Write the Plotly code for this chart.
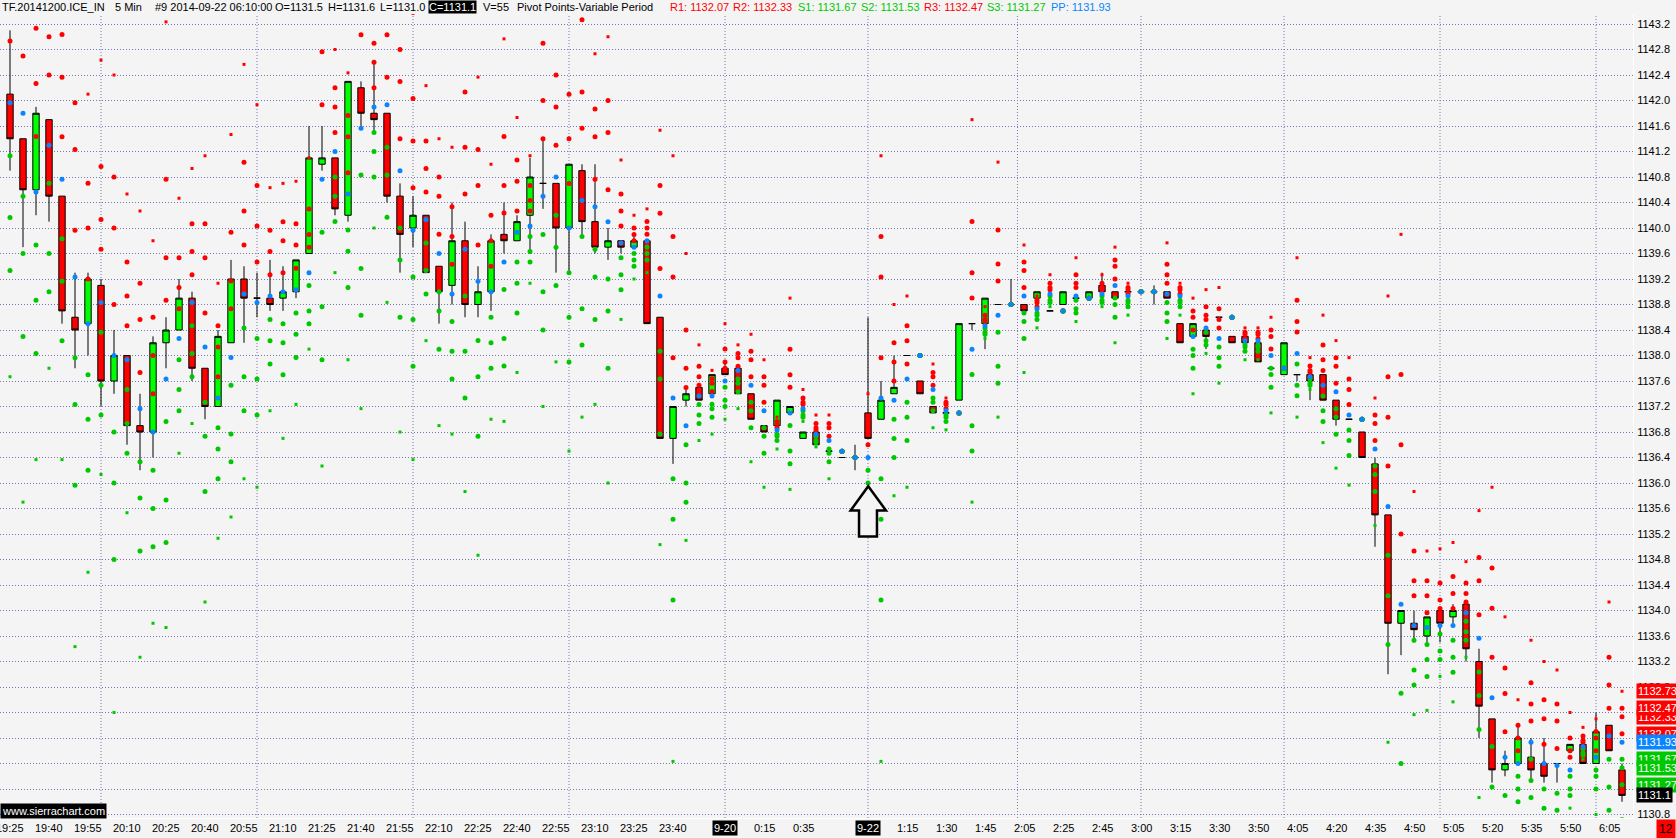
import plotly.graph_objects as go

# ---------------- data ----------------
bars = list(range(125))
opens = [1142.1, 1141.4, 1140.6, 1141.7, 1140.5, 1138.6, 1138.5, 1139.1, 1137.6, 1138.0,
         1136.9, 1136.8, 1138.2, 1138.4, 1138.9, 1137.8, 1137.2, 1138.2, 1139.2, 1138.9,
         1138.9, 1138.9, 1139.0, 1139.6, 1141.0, 1141.1, 1140.2, 1142.2, 1141.8, 1141.8,
         1140.5, 1140.0, 1140.2, 1139.4, 1139.1, 1139.8, 1138.8, 1139.0, 1139.9, 1139.8,
         1140.2, 1140.7, 1140.7, 1140.0, 1140.9, 1140.1, 1139.7, 1139.8, 1139.7, 1139.8,
         1138.6, 1136.7, 1137.3, 1137.5, 1137.4, 1137.8, 1137.8, 1137.4, 1136.9, 1136.9,
         1137.1, 1136.7, 1136.8, 1136.5, 1136.4, 1136.4, 1137.1, 1137.0, 1137.4, 1138.0,
         1137.6, 1137.2, 1137.1, 1137.3, 1138.5, 1138.5, 1138.8, 1138.8, 1138.8, 1138.9,
         1138.7, 1138.8, 1138.9, 1138.9, 1139.1, 1139.0, 1139.0, 1139.0, 1139.0, 1139.0,
         1138.5, 1138.3, 1138.4, 1138.6, 1138.3, 1138.3, 1138.2, 1137.8, 1137.7, 1137.7,
         1137.7, 1137.7, 1137.3, 1137.0, 1136.8, 1136.3, 1135.5, 1133.8, 1133.8, 1133.6,
         1134.0, 1133.9, 1134.1, 1133.2, 1132.3, 1131.5, 1131.6, 1131.7, 1131.6, 1131.6,
         1131.8, 1131.9, 1131.6, 1132.2, 1131.5]
highs = [1143.1, 1141.4, 1141.9, 1141.7, 1140.5, 1139.3, 1139.3, 1139.2, 1138.4, 1138.0,
         1137.4, 1138.3, 1138.6, 1139.2, 1139.0, 1137.8, 1138.4, 1139.5, 1139.4, 1139.3,
         1139.5, 1139.4, 1139.5, 1141.6, 1141.6, 1141.1, 1142.3, 1142.3, 1142.6, 1141.8,
         1140.7, 1140.5, 1140.2, 1139.4, 1140.4, 1140.1, 1139.4, 1139.9, 1140.4, 1140.2,
         1141.1, 1141.4, 1140.7, 1141.0, 1141.0, 1141.0, 1140.0, 1139.8, 1139.9, 1139.8,
         1138.6, 1137.2, 1137.5, 1137.5, 1137.7, 1137.9, 1137.8, 1137.4, 1136.9, 1137.3,
         1137.2, 1136.8, 1136.8, 1136.5, 1136.4, 1136.6, 1138.6, 1137.6, 1138.0, 1138.0,
         1137.6, 1137.2, 1137.1, 1138.5, 1138.5, 1138.9, 1138.8, 1139.2, 1138.8, 1139.0,
         1138.7, 1139.0, 1138.9, 1139.0, 1139.3, 1139.0, 1139.0, 1139.0, 1139.1, 1139.0,
         1138.5, 1138.5, 1138.4, 1138.6, 1138.3, 1138.3, 1138.2, 1137.8, 1138.2, 1137.7,
         1137.7, 1137.7, 1137.3, 1137.0, 1136.8, 1136.4, 1135.5, 1134.0, 1134.0, 1133.9,
         1134.0, 1134.1, 1134.1, 1133.4, 1132.3, 1131.8, 1132.2, 1132.0, 1132.0, 1131.6,
         1131.9, 1131.9, 1132.4, 1132.2, 1131.6]
lows = [1140.9, 1139.7, 1140.2, 1140.1, 1138.5, 1137.8, 1138.0, 1137.2, 1137.4, 1136.6,
        1136.2, 1136.4, 1137.8, 1138.4, 1137.6, 1137.0, 1137.2, 1138.2, 1138.2, 1138.6,
        1138.7, 1138.7, 1138.9, 1139.6, 1140.9, 1140.2, 1140.1, 1141.6, 1141.5, 1140.4,
        1139.3, 1139.7, 1139.3, 1138.5, 1138.8, 1138.6, 1138.6, 1138.7, 1139.6, 1139.8,
        1139.6, 1140.3, 1139.3, 1139.3, 1139.9, 1139.6, 1139.5, 1139.6, 1139.7, 1138.5,
        1136.7, 1136.3, 1137.2, 1137.3, 1137.4, 1137.7, 1137.4, 1137.0, 1136.8, 1136.7,
        1137.1, 1136.7, 1136.6, 1136.5, 1136.4, 1136.2, 1136.7, 1137.0, 1137.4, 1138.0,
        1137.4, 1137.1, 1137.1, 1137.3, 1138.4, 1138.1, 1138.8, 1138.8, 1138.7, 1138.9,
        1138.7, 1138.8, 1138.9, 1138.9, 1139.0, 1138.9, 1139.0, 1139.0, 1138.8, 1138.9,
        1138.2, 1138.3, 1138.1, 1138.6, 1138.2, 1138.2, 1137.9, 1137.8, 1137.7, 1137.6,
        1137.3, 1137.3, 1136.9, 1137.0, 1136.4, 1135.0, 1133.0, 1133.3, 1133.5, 1133.5,
        1133.5, 1133.8, 1133.2, 1132.0, 1131.3, 1131.4, 1131.6, 1131.3, 1131.3, 1131.3,
        1131.8, 1131.6, 1131.6, 1131.8, 1131.0]
closes = [1141.4, 1140.6, 1141.8, 1140.5, 1138.7, 1138.4, 1139.2, 1137.6, 1138.0, 1136.9,
          1136.8, 1138.2, 1138.4, 1138.9, 1137.8, 1137.2, 1138.3, 1139.2, 1138.9, 1138.9,
          1138.8, 1139.0, 1139.5, 1141.1, 1141.1, 1140.3, 1142.3, 1141.8, 1141.7, 1140.5,
          1139.9, 1140.2, 1139.3, 1139.0, 1139.8, 1138.8, 1139.0, 1139.8, 1139.8, 1140.1,
          1140.8, 1140.7, 1140.0, 1141.0, 1140.1, 1139.7, 1139.8, 1139.7, 1139.8, 1138.5,
          1136.7, 1137.2, 1137.4, 1137.3, 1137.7, 1137.7, 1137.4, 1137.0, 1136.8, 1137.3,
          1137.2, 1136.8, 1136.6, 1136.5, 1136.4, 1136.4, 1136.7, 1137.3, 1137.5, 1138.0,
          1137.4, 1137.1, 1137.1, 1138.5, 1138.5, 1138.9, 1138.8, 1138.8, 1138.7, 1139.0,
          1138.7, 1139.0, 1138.9, 1139.0, 1139.0, 1138.9, 1139.0, 1139.0, 1139.0, 1138.9,
          1138.2, 1138.5, 1138.3, 1138.6, 1138.2, 1138.2, 1137.9, 1137.8, 1138.2, 1137.7,
          1137.6, 1137.3, 1137.0, 1137.0, 1136.4, 1135.5, 1133.8, 1134.0, 1133.7, 1133.9,
          1133.8, 1134.0, 1133.4, 1132.5, 1131.5, 1131.6, 1132.0, 1131.5, 1131.4, 1131.6,
          1131.9, 1131.6, 1132.1, 1131.8, 1131.1]
# high / low / close of the bar just before the first visible one (feeds bar 0's pivots)
prior_bar_hlc = [1142.8, 1141.0, 1142.1]

tick_bars = [0, 3, 6, 9, 12, 15, 18, 21, 24, 27, 30, 33, 36, 39, 42, 45, 48, 51,
             58, 61, 69, 72, 75, 78, 81, 84, 87, 90, 93, 96, 99, 102, 105, 108,
             111, 114, 117, 120, 123]
tick_labels = ["19:25", "19:40", "19:55", "20:10", "20:25", "20:40", "20:55", "21:10",
               "21:25", "21:40", "21:55", "22:10", "22:25", "22:40", "22:55", "23:10",
               "23:25", "23:40", "0:15", "0:35", "1:15", "1:30", "1:45", "2:05", "2:25",
               "2:45", "3:00", "3:15", "3:30", "3:50", "4:05", "4:20", "4:35", "4:50",
               "5:05", "5:20", "5:35", "5:50", "6:05"]
date_bars = [55, 66]
date_labels = ["9-20", "9-22"]
hour_line_bars = [7, 19, 31, 43, 55, 66, 77.5, 87, 98, 110, 122]

axis_value_labels = [1132.73, 1132.33, 1132.47, 1132.07, 1131.93, 1131.67, 1131.53, 1131.27, 1131.1]
axis_value_names = ["R5", "R2", "R3", "R1", "PP", "S1", "S2", "S3", "C"]

# ---------------- styling ----------------
BG = "#f4f4f4"
GRID = "rgb(120,120,180)"
RED = "#ff0000"
GREEN = "#00c800"
BLUE = "#0a84ff"
FONT = "Liberation Sans, Arial, sans-serif"

PLOT_W = 1633.0
PLOT_TOP, PLOT_BOT = 14.0, 818.0
PLOT_H = PLOT_BOT - PLOT_TOP


def px_x(px):
    return px / PLOT_W


def px_y(py):
    return (PLOT_BOT - py) / PLOT_H


# ---------------- pivot study (Pivot Points - Variable Period, 1 bar) ----------------
prev_h = [prior_bar_hlc[0]] + highs[:-1]
prev_l = [prior_bar_hlc[1]] + lows[:-1]
prev_c = [prior_bar_hlc[2]] + closes[:-1]
rx, ry, gx, gy, bx, by, srx, sry, sgx, sgy = [], [], [], [], [], [], [], [], [], []
for i, (h, l, c) in enumerate(zip(prev_h, prev_l, prev_c)):
    pp = (h + l + c) / 3.0
    r1, s1 = 2 * pp - l, 2 * pp - h
    r2, s2 = pp + (h - l), pp - (h - l)
    r3, s3 = 2 * pp + h - 2 * l, 2 * pp - 2 * h + l
    r5, s5 = 4 * pp + h - 4 * l, 4 * pp - 4 * h + l
    for v in (r1, r2, r3):
        rx.append(i); ry.append(v)
    for v in (s1, s2, s3):
        gx.append(i); gy.append(v)
    bx.append(i); by.append(pp)
    srx.append(i); sry.append(r5)
    sgx.append(i); sgy.append(s5)

fig = go.Figure()
fig.add_trace(go.Candlestick(
    x=bars, open=opens, high=highs, low=lows, close=closes,
    increasing=dict(fillcolor="#00ff00", line=dict(color="black", width=1)),
    decreasing=dict(fillcolor="#ff0000", line=dict(color="black", width=1)),
    whiskerwidth=0, showlegend=False, hoverinfo="skip"))

fig.add_trace(go.Scatter(x=srx, y=sry, mode="markers", hoverinfo="skip",
                         marker=dict(symbol="square", size=3, color=RED, line=dict(width=0))))
fig.add_trace(go.Scatter(x=sgx, y=sgy, mode="markers", hoverinfo="skip",
                         marker=dict(symbol="square", size=3, color=GREEN, line=dict(width=0))))
fig.add_trace(go.Scatter(x=rx, y=ry, mode="markers", hoverinfo="skip",
                         marker=dict(symbol="circle", size=5, color=RED, line=dict(width=0))))
fig.add_trace(go.Scatter(x=gx, y=gy, mode="markers", hoverinfo="skip",
                         marker=dict(symbol="circle", size=5, color=GREEN, line=dict(width=0))))
fig.add_trace(go.Scatter(x=bx, y=by, mode="markers", hoverinfo="skip",
                         marker=dict(symbol="circle", size=5, color=BLUE, line=dict(width=0))))

shapes = []
for b in hour_line_bars:
    shapes.append(dict(type="line", xref="x", yref="paper", x0=b, x1=b, y0=0, y1=1,
                       line=dict(color=GRID, width=1, dash="1px,2px"), layer="below"))

# hollow up-arrow drawing (chart annotation) in data coordinates
arrow_pts = [(66.02, 1135.95), (67.38, 1135.57), (66.69, 1135.57), (66.69, 1135.16),
             (65.31, 1135.16), (65.31, 1135.57), (64.67, 1135.57)]
path = "M " + " L ".join(f"{x},{y}" for x, y in arrow_pts) + " Z"
shapes.append(dict(type="path", xref="x", yref="y", path=path,
                   line=dict(color="black", width=2.5), fillcolor=BG, layer="above"))

annotations = []
# title row
title_parts = [
    ("TF.20141200.ICE_IN", 1, "black", None),
    ("5 Min", 114, "black", None),
    ("#9 2014-09-22 06:10:00", 154, "black", None),
    ("O=1131.5", 274, "black", None),
    ("H=1131.6", 327, "black", None),
    ("L=1131.0", 379, "black", None),
    ("C=1131.1", 428, "white", "black"),
    ("V=55", 482, "black", None),
    ("Pivot Points-Variable Period", 516, "black", None),
    ("R1: 1132.07", 669, RED, None),
    ("R2: 1132.33", 732, RED, None),
    ("S1: 1131.67", 797, GREEN, None),
    ("S2: 1131.53", 860, GREEN, None),
    ("R3: 1132.47", 923, RED, None),
    ("S3: 1131.27", 986, GREEN, None),
    ("PP: 1131.93", 1050, BLUE, None),
]
for text, xpx, col, bg in title_parts:
    a = dict(text=text, xref="paper", yref="paper", x=px_x(xpx), y=px_y(7),
             xanchor="left", yanchor="middle", showarrow=False, borderpad=0,
             font=dict(family=FONT, size=11, color=col))
    if bg:
        a["bgcolor"] = bg
    annotations.append(a)

# time-axis labels
for b, t in zip(tick_bars, tick_labels):
    annotations.append(dict(text=t, xref="x", yref="paper", x=b, y=px_y(828),
                            xanchor="center", yanchor="middle", showarrow=False,
                            font=dict(family=FONT, size=11, color="black")))
for b, t in zip(date_bars, date_labels):
    annotations.append(dict(text=t, xref="x", yref="paper", x=b, y=px_y(828),
                            xanchor="center", yanchor="middle", showarrow=False,
                            bgcolor="black", borderpad=1,
                            font=dict(family=FONT, size=11, color="white")))

# current study values on the price axis
label_colors = {"R5": RED, "R3": RED, "R2": RED, "R1": RED, "PP": BLUE,
                "S1": GREEN, "S2": GREEN, "S3": GREEN, "C": "black"}
for v, n in zip(axis_value_labels, axis_value_names):
    annotations.append(dict(text=(f"{v:.2f}" if n != "C" else f"{v:.1f}"),
                            xref="paper", yref="y", x=1, y=v, xshift=3,
                            xanchor="left", yanchor="middle", showarrow=False,
                            bgcolor=label_colors[n], borderpad=1,
                            font=dict(family=FONT, size=11, color="white")))

annotations.append(dict(text="www.sierrachart.com", xref="paper", yref="paper",
                        x=0, y=px_y(811), xanchor="left", yanchor="middle",
                        showarrow=False, bgcolor="black", borderpad=1,
                        font=dict(family=FONT, size=11, color="white")))
annotations.append(dict(text="12", xref="paper", yref="paper", x=px_x(1666), y=px_y(829),
                        xanchor="center", yanchor="middle", showarrow=False,
                        bgcolor="#ff0000", borderpad=2,
                        font=dict(family=FONT, size=12, color="black")))

fig.update_layout(
    template="none",
    width=1676, height=838,
    margin=dict(l=0, r=1676 - PLOT_W, t=PLOT_TOP, b=838 - PLOT_BOT, pad=0, autoexpand=False),
    paper_bgcolor=BG, plot_bgcolor=BG,
    showlegend=False,
    font=dict(family=FONT, size=11, color="black"),
    shapes=shapes, annotations=annotations,
    xaxis=dict(range=[-10 / 13, (PLOT_W - 10) / 13], showticklabels=False, showgrid=False,
               zeroline=False, showline=True, linecolor="#ffffff", linewidth=1,
               ticks="", rangeslider=dict(visible=False), automargin=False, fixedrange=True),
    yaxis=dict(side="right", range=[1143.2 - (PLOT_BOT - 24) / 63.75, 1143.2 + (24 - PLOT_TOP) / 63.75],
               tick0=1130.8, dtick=0.4, tickformat=".1f", showgrid=True,
               gridcolor=GRID, griddash="1px,2px", gridwidth=1, zeroline=False,
               showline=True, linecolor="#ffffff", linewidth=1, ticks="", ticklen=0,
               ticklabelstandoff=1,
               tickfont=dict(family=FONT, size=11, color="black"),
               automargin=False, fixedrange=True),
)

fig.write_html(
    "out.html",
    config={"displayModeBar": False},
    post_script="document.body.style.margin='0px';document.body.style.background='%s';" % BG,
)
